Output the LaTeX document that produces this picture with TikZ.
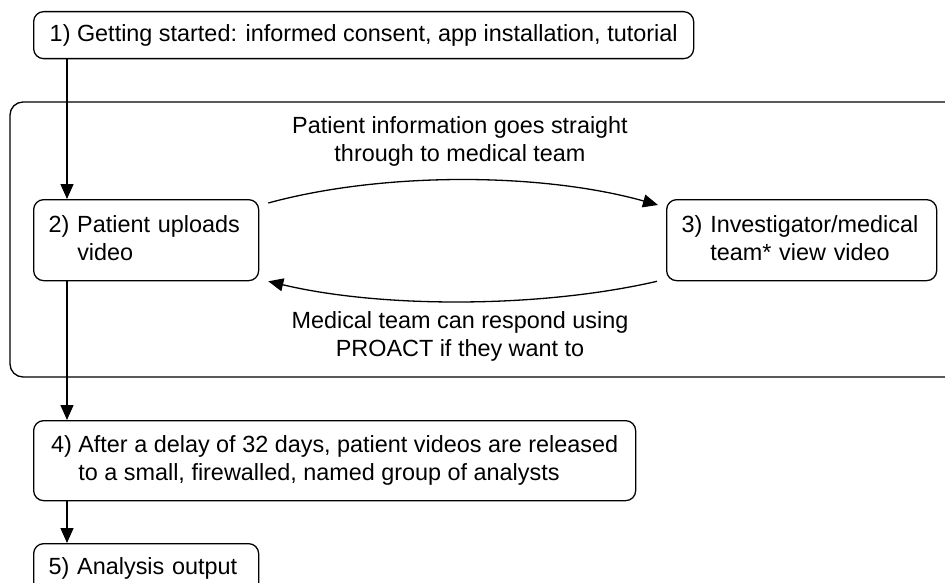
\documentclass[tikz,border=0pt]{standalone}
\usepackage{fontspec}
\setmainfont{Liberation Sans}
\usetikzlibrary{arrows.meta}
\begin{document}
\begin{tikzpicture}[x=1pt,y=-1pt,
  box/.style={draw, line width=1.3pt, rounded corners=10pt, inner xsep=15pt, inner ysep=0pt,
    align=left, anchor=north west, font=\fontsize{23.4}{28}\selectfont},
  lbl/.style={align=center, inner sep=0pt, font=\fontsize{23.4}{28}\selectfont},
  arr/.style={line width=1.3pt, -{Triangle[length=15pt,width=13pt]}},
  con/.style={line width=1.3pt}]
\clip (0,0) rectangle (945,583);
% container
\draw[con, rounded corners=13pt] (970,102) -- (10,102) -- (10,377) -- (970,377);
% boxes
\node[box, minimum width=660pt, minimum height=47pt, align=center] (b1) at (33,11)
  {1)~Getting started: informed consent, app installation, tutorial};
\node[box, text width=195pt, minimum height=81pt] (b2) at (33,199)
  {2)~Patient uploads\\\phantom{2)~}video};
\node[box, text width=240pt, minimum height=81pt] (b3) at (666,199)
  {3)~Investigator/medical\\\phantom{3)~}team* view video};
\node[box, minimum width=602pt, inner xsep=8pt, minimum height=80pt] (b4) at (33,420)
  {4)~After a delay of 32 days, patient videos are released\\\phantom{4)~}to a small, firewalled, named group of analysts};
\node[box, text width=195pt, minimum height=50pt] (b5) at (33,543)
  {5)~Analysis output};
% labels
\node[lbl] (t1) at (460,141.5) {Patient information goes straight\\through to medical team};
\node[lbl] (t2) at (460,336.5) {Medical team can respond using\\PROACT if they want to};
% connectors
\draw[arr] ([xshift=34pt]b1.south west) -- ([xshift=34pt]b2.north west);
\draw[arr] ([xshift=34pt]b2.south west) -- ([xshift=34pt]b4.north west);
\draw[arr] ([xshift=34pt]b4.south west) -- ([xshift=34pt]b5.north west);
\draw[arr] ([xshift=9pt,yshift=-4pt]b2.north east) .. controls +(113,-31) and +(-118,-33) .. ([xshift=-8pt,yshift=-6pt]b3.north west);
\draw[arr] ([xshift=-9pt]b3.south west) .. controls +(-117,27) and +(113,27) .. ([xshift=9pt]b2.south east);
\end{tikzpicture}
\end{document}
